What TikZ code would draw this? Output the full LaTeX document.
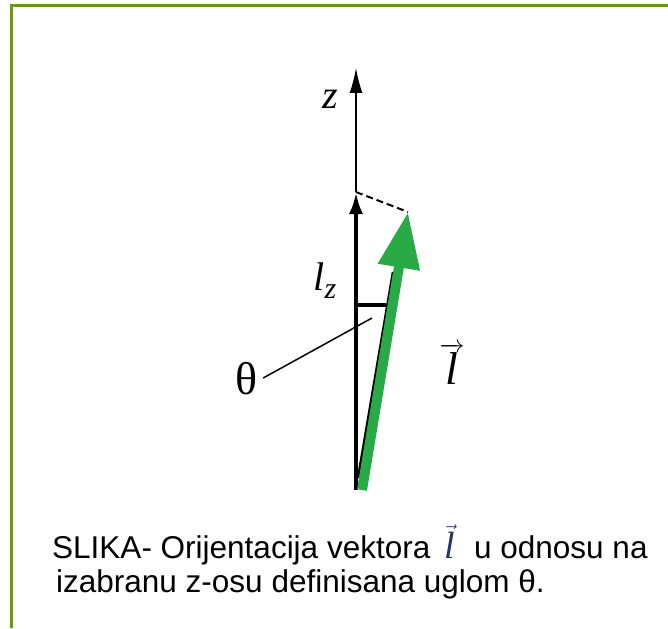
\documentclass[tikz,border=0pt]{standalone}
\usepackage{fontspec}
\setsansfont{Liberation Sans}
\newfontfamily\tnr{Liberation Serif}
\usepackage{amsmath}
\usetikzlibrary{arrows.meta}
\definecolor{frame}{RGB}{107,148,32}
\definecolor{lgreen}{RGB}{40,170,70}
\definecolor{navy}{RGB}{40,50,110}
\newcommand{\fsz}[1]{\fontsize{#1}{#1}\selectfont}

\begin{document}
\begin{tikzpicture}[x=1pt, y=-1pt, label/.style = {inner sep=0pt}, capt/.style = {inner sep=0pt, anchor=base west, font=\sffamily\fsz{31.5}}]
            \useasboundingbox (0,0) rectangle (668,628);
            \draw[frame, line width=3pt] (11,628) -- (11,6) -- (668,6);

            \coordinate (O) at (356,490);
            \coordinate (Ztop) at (356,68);
            \coordinate (Lz) at (356,192);
            \coordinate (Lo) at (362,490);
            \coordinate (L) at (408,212);
            \coordinate (Sb) at (358,478);
            \coordinate (St) at (393,272);
            \coordinate (Hl) at (356,305);
            \coordinate (Hr) at (386,305);

            \node[label] (z) at (330,99) {\tnr\itshape\fsz{40}z};
            \node[label] (lz) at (325,281) {\tnr\itshape\fsz{40}l\raisebox{-8pt}{\fsz{30}z}};
            \node[label] (th) at (247,379) {\tnr\fsz{46}θ};
            \node[label] (lvec) at (452,364) {\fsz{46}$\overrightarrow{\text{\tnr\itshape l}}$};
            \coordinate (thp) at (372,318);

            \draw[line width=1.5pt, -{Latex[length=25pt, width=13pt]}] (Lz) -- (Ztop);
            \draw[line width=4pt, -{Latex[length=22pt, width=14pt]}] (O) -- (Lz);
            \draw[line width=2pt, dash pattern=on 7pt off 4pt] (Lz) -- (L);
            \draw[line width=2.5pt] (Sb) -- (St);
            \draw[lgreen, line width=10pt, -{Triangle[length=56pt, width=40pt]}] (Lo) -- (L);
            \draw[line width=4pt] (Hl) -- (Hr);
            \draw[line width=1.5pt] (th.east) ++(5,-1) coordinate (the) -- (thp);

            \node[capt] (cap1) at (52,558) {SLIKA- Orijentacija vektora \,{\color{navy}\fsz{38}$\vec{\text{\tnr\itshape l}}$}\,\, u odnosu na};
            \node[capt] (cap2) at (56,592) {izabranu z-osu definisana uglom θ.};
        \end{tikzpicture}
\end{document}
